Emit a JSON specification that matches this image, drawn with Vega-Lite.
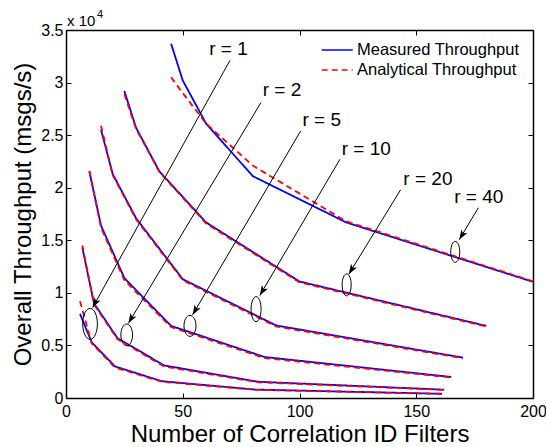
{
  "$schema": "https://vega.github.io/schema/vega-lite/v6.json",
  "width": 467,
  "height": 368,
  "autosize": "none",
  "padding": {"left": 66, "top": 30, "right": 13, "bottom": 49},
  "config": {
    "font": "Liberation Sans",
    "view": {"stroke": null},
    "axis": {
      "grid": false,
      "domainColor": "black",
      "domainWidth": 1.5,
      "tickColor": "black",
      "tickWidth": 1,
      "tickSize": -5,
      "labelColor": "black",
      "labelFontSize": 16,
      "labelFlush": false,
      "titleColor": "black",
      "titleFontWeight": "normal"
    },
    "legend": {
      "orient": "none",
      "legendX": 262.2,
      "legendY": 11,
      "padding": 0,
      "symbolType": "M-1.94,0H1.94",
      "symbolSize": 256,
      "symbolStrokeWidth": 1.5,
      "labelFontSize": 16.5,
      "labelOffset": 10.8,
      "labelLimit": 0,
      "rowPadding": 2,
      "labelColor": "black"
    }
  },
  "datasets": {
    "curves": [
      {"series": "Measured Throughput", "r": 1, "n": 6, "tp": 8000},
      {"series": "Measured Throughput", "r": 1, "n": 11, "tp": 5300},
      {"series": "Measured Throughput", "r": 1, "n": 21, "tp": 3000},
      {"series": "Measured Throughput", "r": 1, "n": 41, "tp": 1600},
      {"series": "Measured Throughput", "r": 1, "n": 81, "tp": 800},
      {"series": "Measured Throughput", "r": 1, "n": 161, "tp": 400},
      {"series": "Measured Throughput", "r": 2, "n": 7, "tp": 14300},
      {"series": "Measured Throughput", "r": 2, "n": 12, "tp": 9000},
      {"series": "Measured Throughput", "r": 2, "n": 22, "tp": 5700},
      {"series": "Measured Throughput", "r": 2, "n": 42, "tp": 3100},
      {"series": "Measured Throughput", "r": 2, "n": 82, "tp": 1550},
      {"series": "Measured Throughput", "r": 2, "n": 162, "tp": 790},
      {"series": "Measured Throughput", "r": 5, "n": 10, "tp": 21550},
      {"series": "Measured Throughput", "r": 5, "n": 15, "tp": 16400},
      {"series": "Measured Throughput", "r": 5, "n": 25, "tp": 11400},
      {"series": "Measured Throughput", "r": 5, "n": 45, "tp": 6860},
      {"series": "Measured Throughput", "r": 5, "n": 85, "tp": 3900},
      {"series": "Measured Throughput", "r": 5, "n": 165, "tp": 2000},
      {"series": "Measured Throughput", "r": 10, "n": 15, "tp": 25500},
      {"series": "Measured Throughput", "r": 10, "n": 20, "tp": 21300},
      {"series": "Measured Throughput", "r": 10, "n": 30, "tp": 17100},
      {"series": "Measured Throughput", "r": 10, "n": 50, "tp": 11300},
      {"series": "Measured Throughput", "r": 10, "n": 90, "tp": 6900},
      {"series": "Measured Throughput", "r": 10, "n": 170, "tp": 3840},
      {"series": "Measured Throughput", "r": 20, "n": 25, "tp": 29200},
      {"series": "Measured Throughput", "r": 20, "n": 30, "tp": 25700},
      {"series": "Measured Throughput", "r": 20, "n": 40, "tp": 21550},
      {"series": "Measured Throughput", "r": 20, "n": 60, "tp": 16700},
      {"series": "Measured Throughput", "r": 20, "n": 100, "tp": 11080},
      {"series": "Measured Throughput", "r": 20, "n": 180, "tp": 6860},
      {"series": "Measured Throughput", "r": 40, "n": 45, "tp": 33700},
      {"series": "Measured Throughput", "r": 40, "n": 50, "tp": 30200},
      {"series": "Measured Throughput", "r": 40, "n": 60, "tp": 26100},
      {"series": "Measured Throughput", "r": 40, "n": 80, "tp": 21100},
      {"series": "Measured Throughput", "r": 40, "n": 120, "tp": 16700},
      {"series": "Measured Throughput", "r": 40, "n": 200, "tp": 11050},
      {"series": "Analytical Throughput", "r": 1, "n": 6, "tp": 9200},
      {"series": "Analytical Throughput", "r": 1, "n": 11, "tp": 5200},
      {"series": "Analytical Throughput", "r": 1, "n": 21, "tp": 2900},
      {"series": "Analytical Throughput", "r": 1, "n": 41, "tp": 1550},
      {"series": "Analytical Throughput", "r": 1, "n": 81, "tp": 780},
      {"series": "Analytical Throughput", "r": 1, "n": 161, "tp": 390},
      {"series": "Analytical Throughput", "r": 2, "n": 7, "tp": 14500},
      {"series": "Analytical Throughput", "r": 2, "n": 12, "tp": 8900},
      {"series": "Analytical Throughput", "r": 2, "n": 22, "tp": 5600},
      {"series": "Analytical Throughput", "r": 2, "n": 42, "tp": 3000},
      {"series": "Analytical Throughput", "r": 2, "n": 82, "tp": 1500},
      {"series": "Analytical Throughput", "r": 2, "n": 162, "tp": 770},
      {"series": "Analytical Throughput", "r": 5, "n": 10, "tp": 21600},
      {"series": "Analytical Throughput", "r": 5, "n": 15, "tp": 16200},
      {"series": "Analytical Throughput", "r": 5, "n": 25, "tp": 11200},
      {"series": "Analytical Throughput", "r": 5, "n": 45, "tp": 6750},
      {"series": "Analytical Throughput", "r": 5, "n": 85, "tp": 3800},
      {"series": "Analytical Throughput", "r": 5, "n": 165, "tp": 1950},
      {"series": "Analytical Throughput", "r": 10, "n": 15, "tp": 25900},
      {"series": "Analytical Throughput", "r": 10, "n": 20, "tp": 21200},
      {"series": "Analytical Throughput", "r": 10, "n": 30, "tp": 17000},
      {"series": "Analytical Throughput", "r": 10, "n": 50, "tp": 11200},
      {"series": "Analytical Throughput", "r": 10, "n": 90, "tp": 6800},
      {"series": "Analytical Throughput", "r": 10, "n": 170, "tp": 3780},
      {"series": "Analytical Throughput", "r": 20, "n": 25, "tp": 28900},
      {"series": "Analytical Throughput", "r": 20, "n": 30, "tp": 25600},
      {"series": "Analytical Throughput", "r": 20, "n": 40, "tp": 21500},
      {"series": "Analytical Throughput", "r": 20, "n": 60, "tp": 16600},
      {"series": "Analytical Throughput", "r": 20, "n": 100, "tp": 11000},
      {"series": "Analytical Throughput", "r": 20, "n": 180, "tp": 6800},
      {"series": "Analytical Throughput", "r": 40, "n": 45, "tp": 30500},
      {"series": "Analytical Throughput", "r": 40, "n": 50, "tp": 29000},
      {"series": "Analytical Throughput", "r": 40, "n": 60, "tp": 26100},
      {"series": "Analytical Throughput", "r": 40, "n": 80, "tp": 22100},
      {"series": "Analytical Throughput", "r": 40, "n": 120, "tp": 16800},
      {"series": "Analytical Throughput", "r": 40, "n": 200, "tp": 11100}
    ],
    "notes": [
      {"r": 1, "label": "r = 1", "tx": 69.6, "ty": 33150, "x1": 70.2, "y1": 32100, "x2": 11.4, "y2": 8600, "ex": 10.3, "ey": 7050},
      {"r": 2, "label": "r = 2", "tx": 92.5, "ty": 29270, "x1": 83.5, "y1": 28100, "x2": 26.7, "y2": 7100, "ex": 26, "ey": 6000},
      {"r": 5, "label": "r = 5", "tx": 109.5, "ty": 26410, "x1": 100.5, "y1": 25400, "x2": 54.2, "y2": 7900, "ex": 53.1, "ey": 6860},
      {"r": 10, "label": "r = 10", "tx": 128.6, "ty": 23710, "x1": 117.3, "y1": 22700, "x2": 83.0, "y2": 9750, "ex": 81.4, "ey": 8450},
      {"r": 20, "label": "r = 20", "tx": 155, "ty": 20860, "x1": 143.3, "y1": 19800, "x2": 121.1, "y2": 11780, "ex": 120.2, "ey": 10760},
      {"r": 40, "label": "r = 40", "tx": 176.8, "ty": 19080, "x1": 176.6, "y1": 18100, "x2": 168.4, "y2": 15050, "ex": 166.7, "ey": 13900}
    ]
  },
  "layer": [
    {
      "layer": [
        {
          "data": {"name": "curves"},
          "transform": [{"filter": "datum.series === 'Measured Throughput'"}],
          "mark": {"type": "line", "strokeWidth": 1.8},
          "encoding": {
            "x": {
              "field": "n", "type": "quantitative",
              "scale": {"domain": [0, 200], "nice": false, "zero": false},
              "axis": {
                "title": "Number of Correlation ID Filters",
                "values": [0, 50, 100, 150, 200],
                "labelPadding": 10,
                "titleFontSize": 24,
                "titleX": 233.5,
                "titleY": 43,
                "titleAlign": "center",
                "titleBaseline": "alphabetic"
              }
            },
            "y": {
              "field": "tp", "type": "quantitative",
              "scale": {"domain": [0, 35000], "nice": false},
              "axis": {
                "title": "Overall Throughput (msgs/s)",
                "values": [0, 5000, 10000, 15000, 20000, 25000, 30000, 35000],
                "labelExpr": "'' + datum.value / 10000",
                "labelPadding": 8,
                "titleFontSize": 24,
                "titleX": -36,
                "titleY": 184,
                "titleAngle": -90,
                "titleAlign": "center",
                "titleBaseline": "alphabetic"
              }
            },
            "detail": {"field": "r", "type": "nominal"},
            "color": {
              "field": "series", "type": "nominal",
              "scale": {"domain": ["Measured Throughput", "Analytical Throughput"], "range": ["#0000ff", "#ff0000"]},
              "legend": {"title": null}
            },
            "strokeDash": {
              "field": "series", "type": "nominal",
              "scale": {"domain": ["Measured Throughput", "Analytical Throughput"], "range": [[1, 0], [6, 4]]},
              "legend": {"title": null}
            }
          }
        },
        {
          "data": {"name": "curves"},
          "transform": [{"filter": "datum.series === 'Analytical Throughput'"}],
          "mark": {"type": "line", "strokeWidth": 1.8},
          "encoding": {
            "x": {"field": "n", "type": "quantitative"},
            "y": {"field": "tp", "type": "quantitative"},
            "detail": {"field": "r", "type": "nominal"},
            "color": {"field": "series", "type": "nominal", "legend": {"title": null}},
            "strokeDash": {"field": "series", "type": "nominal", "legend": {"title": null}}
          }
        },
        {
          "data": {"name": "notes"},
          "mark": {"type": "rule", "color": "black", "strokeWidth": 1},
          "encoding": {
            "x": {"field": "x1", "type": "quantitative"},
            "y": {"field": "y1", "type": "quantitative"},
            "x2": {"field": "x2"},
            "y2": {"field": "y2"}
          }
        },
        {
          "data": {"name": "notes"},
          "transform": [{"calculate": "atan2((datum.x2 - datum.x1) * 2.335, (datum.y2 - datum.y1) * 0.0105) * 180 / PI", "as": "ang"}],
          "mark": {"type": "point", "shape": "M0,0L-3.5,10L0,7.5L3.5,10Z", "filled": true, "color": "black", "size": 4, "opacity": 1},
          "encoding": {
            "x": {"field": "x2", "type": "quantitative"},
            "y": {"field": "y2", "type": "quantitative"},
            "angle": {"field": "ang", "type": "quantitative", "scale": null}
          }
        },
        {
          "data": {"name": "notes"},
          "mark": {"type": "point", "filled": false, "stroke": "black", "strokeWidth": 1, "size": 4, "opacity": 1},
          "encoding": {
            "x": {"field": "ex", "type": "quantitative"},
            "y": {"field": "ey", "type": "quantitative"},
            "shape": {
              "field": "r", "type": "nominal", "legend": null,
              "scale": {
                "domain": [1, 2, 5, 10, 20, 40],
                "range": [
                  "M7.35,0C7.35,8.56 4.06,15.5 0,15.5C-4.06,15.5 -7.35,8.56 -7.35,0C-7.35,-8.56 -4.06,-15.5 0,-15.5C4.06,-15.5 7.35,-8.56 7.35,0Z",
                  "M5.85,0C5.85,5.99 3.23,10.85 0,10.85C-3.23,10.85 -5.85,5.99 -5.85,0C-5.85,-5.99 -3.23,-10.85 0,-10.85C3.23,-10.85 5.85,-5.99 5.85,0Z",
                  "M6,0C6,5.8 3.31,10.5 0,10.5C-3.31,10.5 -6,5.8 -6,0C-6,-5.8 -3.31,-10.5 0,-10.5C3.31,-10.5 6,-5.8 6,0Z",
                  "M5,0C5,6.9 2.76,12.5 0,12.5C-2.76,12.5 -5,6.9 -5,0C-5,-6.9 -2.76,-12.5 0,-12.5C2.76,-12.5 5,-6.9 5,0Z",
                  "M4.5,0C4.5,6.08 2.49,11 0,11C-2.49,11 -4.5,6.08 -4.5,0C-4.5,-6.08 -2.49,-11 0,-11C2.49,-11 4.5,-6.08 4.5,0Z",
                  "M4.5,0C4.5,5.8 2.49,10.5 0,10.5C-2.49,10.5 -4.5,5.8 -4.5,0C-4.5,-5.8 -2.49,-10.5 0,-10.5C2.49,-10.5 4.5,-5.8 4.5,0Z"
                ]
              }
            }
          }
        },
        {
          "data": {"name": "notes"},
          "mark": {"type": "text", "fontSize": 19, "align": "center", "baseline": "middle", "color": "black"},
          "encoding": {
            "x": {"field": "tx", "type": "quantitative"},
            "y": {"field": "ty", "type": "quantitative"},
            "text": {"field": "label", "type": "nominal"}
          }
        },
        {
          "data": {"values": [{"t": "x 10"}]},
          "mark": {"type": "text", "fontSize": 15, "align": "left", "baseline": "alphabetic", "dx": 1, "dy": -4.5, "color": "black"},
          "encoding": {
            "x": {"datum": 0, "type": "quantitative"},
            "y": {"datum": 35000, "type": "quantitative"},
            "text": {"field": "t", "type": "nominal"}
          }
        },
        {
          "data": {"values": [{"t": "4"}]},
          "mark": {"type": "text", "fontSize": 11, "align": "left", "baseline": "alphabetic", "dx": 31, "dy": -12, "color": "black"},
          "encoding": {
            "x": {"datum": 0, "type": "quantitative"},
            "y": {"datum": 35000, "type": "quantitative"},
            "text": {"field": "t", "type": "nominal"}
          }
        }
      ]
    },
    {
      "data": {"values": [{"n": 100, "tp": 10000}]},
      "mark": {"type": "point", "opacity": 0},
      "encoding": {
        "x": {
          "field": "n", "type": "quantitative",
          "axis": {"orient": "top", "labels": false, "title": null, "values": [0, 50, 100, 150, 200]}
        },
        "y": {
          "field": "tp", "type": "quantitative",
          "axis": {"orient": "right", "labels": false, "title": null, "values": [0, 5000, 10000, 15000, 20000, 25000, 30000, 35000]}
        }
      }
    }
  ],
  "resolve": {"axis": {"x": "independent", "y": "independent"}}
}
